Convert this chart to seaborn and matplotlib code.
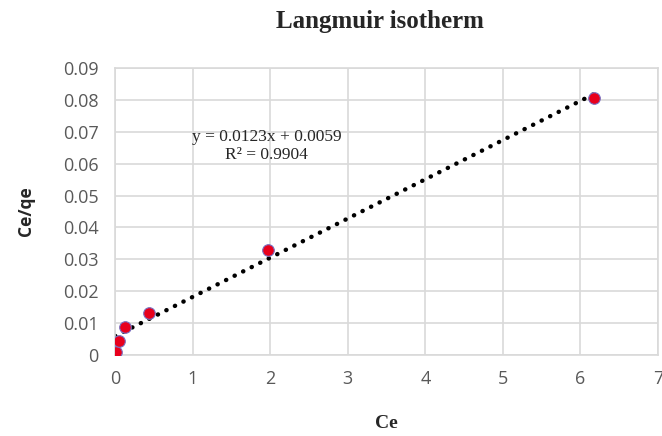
import numpy as np
import pandas as pd
import matplotlib
matplotlib.use("Agg")
import matplotlib.pyplot as plt
import seaborn as sns

# data
ce = [0.01, 0.05, 0.13, 0.44, 1.97, 6.18]
ce_qe = [0.0010, 0.0045, 0.0088, 0.0132, 0.0330, 0.0805]
slope = 0.0123
intercept = 0.0059
x_ticks = [0, 1, 2, 3, 4, 5, 6, 7]
y_ticks = [0, 0.01, 0.02, 0.03, 0.04, 0.05, 0.06, 0.07, 0.08, 0.09]

df = pd.DataFrame({"Ce": ce, "Ce/qe": ce_qe})

sns.set_theme(style="white")
fig = plt.figure(figsize=(6.62, 4.36), dpi=100)
ax = fig.add_axes([0.174, 0.186, 0.82, 0.658])

# trendline from the fitted equation
xl = np.array([0, max(ce)])
sns.lineplot(x=xl, y=slope * xl + intercept, ax=ax, color="black",
             linestyle=(0, (0.05, 2.1)), linewidth=3.2, dash_capstyle="round", zorder=2)

sns.scatterplot(data=df, x="Ce", y="Ce/qe", ax=ax, color="#e8001c", s=70,
                edgecolor="#7a6fc0", linewidth=0.8, zorder=3)

ax.set_xlim(0, 7)
ax.set_ylim(0, 0.09)
ax.set_xticks(x_ticks)
ax.set_yticks(y_ticks)
ax.set_xticklabels([str(t) for t in x_ticks])
ax.set_yticklabels(["0"] + [f"{t:.2f}" for t in y_ticks[1:]])
ax.grid(True, color="#d9d9d9", linewidth=1.2)
for s in ax.spines.values():
    s.set_color("#d9d9d9")
    s.set_linewidth(1.2)
ax.tick_params(axis="y", length=0, labelsize=13, labelcolor="#595959", pad=12)
ax.tick_params(axis="x", length=0, labelsize=13, labelcolor="#595959", pad=11)
for lab in ax.get_xticklabels() + ax.get_yticklabels():
    lab.set_family("Open Sans")

ax.set_xlabel("Ce", fontsize=14, fontweight="bold", family="Liberation Serif", labelpad=19)
ax.set_ylabel("Ce/qe", fontsize=12.5, fontweight="bold", family="Open Sans", labelpad=20)
fig.suptitle("Langmuir isotherm", x=0.574, y=0.978, fontsize=18, fontweight="bold",
             family="Liberation Serif")

ax.text(1.95, 0.0655, "y = 0.0123x + 0.0059\nR² = 0.9904", ha="center", va="center",
        fontsize=12.5, family="Liberation Serif", linespacing=1.2)

fig.savefig("out.png", dpi=100)
